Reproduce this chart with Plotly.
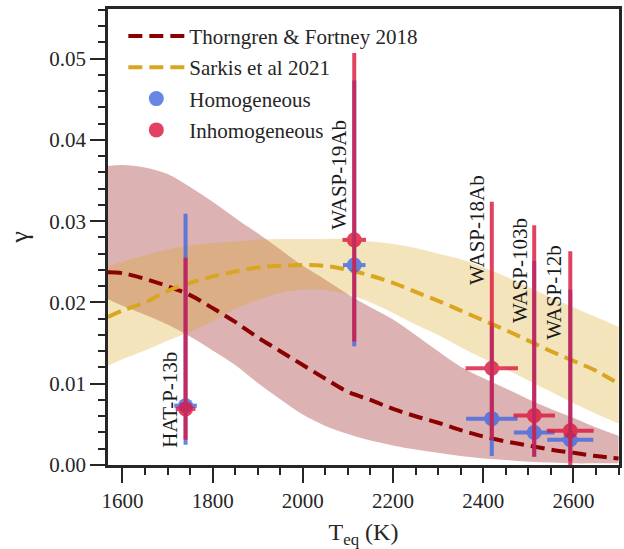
import plotly.graph_objects as go

# ---------------- data ----------------
planets = ["HAT-P-13b", "WASP-19Ab", "WASP-18Ab", "WASP-103b", "WASP-12b"]
teq = [1740, 2114, 2419, 2513, 2593]

homog_gamma = [0.0073, 0.0246, 0.0057, 0.0040, 0.0031]
homog_up = [0.0236, 0.0227, 0.0114, 0.0211, 0.0185]
homog_down = [0.0048, 0.0100, 0.0046, 0.0030, 0.0026]
homog_xerr = [25, 25, 57, 45, 51]

inhomog_gamma = [0.0069, 0.0277, 0.0119, 0.0061, 0.0042]
inhomog_up = [0.0186, 0.0230, 0.0205, 0.0234, 0.0221]
inhomog_down = [0.0038, 0.0125, 0.0088, 0.0051, 0.0045]
inhomog_xerr = [22, 26, 58, 46, 52]

t_grid = [1568, 1600, 1650, 1700, 1750, 1800, 1850, 1900, 1950, 2000, 2050, 2100,
          2150, 2200, 2250, 2300, 2350, 2400, 2450, 2500, 2550, 2600, 2650, 2700]

tf_med = [0.0237, 0.0236, 0.0229, 0.0220, 0.0209, 0.0193, 0.0176, 0.0157, 0.0140, 0.0123,
          0.0106, 0.0090, 0.0080, 0.0069, 0.0060, 0.0052, 0.0043, 0.0035, 0.0029, 0.0024,
          0.0019, 0.0015, 0.0011, 0.0008]
tf_hi = [0.0368, 0.0369, 0.0366, 0.0358, 0.0342, 0.0324, 0.0304, 0.0285, 0.0265, 0.0245,
         0.0228, 0.0210, 0.0194, 0.0179, 0.0160, 0.0140, 0.0121, 0.0107, 0.0094, 0.0081,
         0.0069, 0.0058, 0.0046, 0.0036]
tf_lo = [0.0204, 0.0196, 0.0185, 0.0173, 0.0158, 0.0141, 0.0123, 0.0101, 0.0081, 0.0062,
         0.0048, 0.0038, 0.0030, 0.0024, 0.0019, 0.0015, 0.0011, 0.0008, 0.0006, 0.0004,
         0.0003, 0.0002, 0.0002, 0.0002]

sk_med = [0.0182, 0.0190, 0.0200, 0.0214, 0.0224, 0.0232, 0.0238, 0.0243, 0.0245, 0.0246,
          0.0245, 0.0240, 0.0233, 0.0224, 0.0213, 0.0202, 0.0190, 0.0178, 0.0166, 0.0153,
          0.0140, 0.0128, 0.0116, 0.0100]
sk_hi = [0.0244, 0.0250, 0.0258, 0.0265, 0.0270, 0.0273, 0.0275, 0.0277, 0.0278, 0.0278,
         0.0278, 0.0278, 0.0275, 0.0272, 0.0267, 0.0260, 0.0253, 0.0243, 0.0232, 0.0219,
         0.0206, 0.0194, 0.0182, 0.0170]
sk_lo = [0.0122, 0.0130, 0.0141, 0.0153, 0.0164, 0.0177, 0.0192, 0.0203, 0.0212, 0.0216,
         0.0215, 0.0210, 0.0200, 0.0187, 0.0173, 0.0160, 0.0145, 0.0131, 0.0118, 0.0104,
         0.0090, 0.0076, 0.0063, 0.0051]

y_ticks = [0.00, 0.01, 0.02, 0.03, 0.04, 0.05]
x_ticks = [1600, 1800, 2000, 2200, 2400, 2600]

# label placement (centre of rotated text), in data units
label_pos = [(1705, 0.0080), (2080, 0.0357), (2386, 0.0289), (2480, 0.0239), (2557, 0.0212)]

# ---------------- style ----------------
SERIF = "Liberation Serif, Times New Roman, serif"
INK = "#262626"
DARKRED = "#8B0000"
GOLD = "#DAA520"
BLUE = "#4169E1"
CRIMSON = "#DC143C"
DASH = "14px,7px"

fig = go.Figure()

# Thorngren band
fig.add_trace(go.Scatter(x=t_grid, y=tf_hi, mode="lines", line=dict(width=0, shape="spline"),
                         showlegend=False, hoverinfo="skip"))
fig.add_trace(go.Scatter(x=t_grid, y=tf_lo, mode="lines", line=dict(width=0, shape="spline"),
                         fill="tonexty", fillcolor="rgba(139,0,0,0.3)",
                         showlegend=False, hoverinfo="skip"))
# Sarkis band
fig.add_trace(go.Scatter(x=t_grid, y=sk_hi, mode="lines", line=dict(width=0, shape="spline"),
                         showlegend=False, hoverinfo="skip"))
fig.add_trace(go.Scatter(x=t_grid, y=sk_lo, mode="lines", line=dict(width=0, shape="spline"),
                         fill="tonexty", fillcolor="rgba(218,165,32,0.3)",
                         showlegend=False, hoverinfo="skip"))

# median curves
fig.add_trace(go.Scatter(x=t_grid, y=tf_med, mode="lines", name="Thorngren & Fortney 2018",
                         line=dict(color=DARKRED, width=4, dash=DASH, shape="spline"),
                         legendgroup="a", legendrank=1))
fig.add_trace(go.Scatter(x=t_grid, y=sk_med, mode="lines", name="Sarkis et al 2021",
                         line=dict(color=GOLD, width=4, dash=DASH, shape="spline"),
                         legendgroup="b", legendrank=2))

# data points
fig.add_trace(go.Scatter(
    x=teq, y=homog_gamma, mode="markers", name="Homogeneous",
    marker=dict(color=BLUE, size=15),
    opacity=0.8,
    error_y=dict(type="data", symmetric=False, array=homog_up, arrayminus=homog_down,
                 thickness=4, width=0, color=BLUE),
    error_x=dict(type="data", array=homog_xerr, thickness=4, width=0, color=BLUE),
    legendgroup="c", legendrank=3))
fig.add_trace(go.Scatter(
    x=teq, y=inhomog_gamma, mode="markers", name="Inhomogeneous",
    marker=dict(color=CRIMSON, size=15),
    opacity=0.8,
    error_y=dict(type="data", symmetric=False, array=inhomog_up, arrayminus=inhomog_down,
                 thickness=4, width=0, color=CRIMSON),
    error_x=dict(type="data", array=inhomog_xerr, thickness=4, width=0, color=CRIMSON),
    legendgroup="d", legendrank=4))

for name, (lx, ly) in zip(planets, label_pos):
    fig.add_annotation(x=lx, y=ly, text=name, textangle=-90, showarrow=False,
                       xanchor="center", yanchor="middle",
                       font=dict(family=SERIF, size=21, color="#1a1a1a"))

axis_common = dict(showline=True, linecolor=INK, linewidth=2.5, mirror=True,
                   showgrid=False, zeroline=False, ticks="outside", ticklen=15,
                   tickwidth=2, tickcolor=INK, automargin=False,
                   tickfont=dict(family=SERIF, size=21, color=INK))

fig.update_xaxes(range=[1568, 2701], tickvals=x_ticks,
                 minor=dict(ticks="outside", ticklen=7, tickwidth=2, tickcolor=INK, dtick=50, tick0=1600),
                 title=dict(text="T<sub>eq</sub> (K)", font=dict(family=SERIF, size=24, color=INK), standoff=14),
                 **axis_common)
fig.update_yaxes(range=[0, 0.0561], tickvals=y_ticks, tickformat=".2f",
                 minor=dict(ticks="outside", ticklen=7, tickwidth=2, tickcolor=INK, dtick=0.002, tick0=0),
                 title=dict(text="γ", font=dict(family=SERIF, size=26, color=INK), standoff=14),
                 **axis_common)

fig.update_layout(
    width=624, height=549,
    margin=dict(l=108, r=5, t=9, b=84),
    plot_bgcolor="white", paper_bgcolor="white",
    font=dict(family=SERIF, size=21, color=INK),
    showlegend=True,
    legend=dict(x=0.03, y=0.985, xanchor="left", yanchor="top",
                bgcolor="rgba(0,0,0,0)", font=dict(family=SERIF, size=21, color=INK),
                itemwidth=56, tracegroupgap=1, traceorder="grouped"),
)

fig.write_html("out.html")
